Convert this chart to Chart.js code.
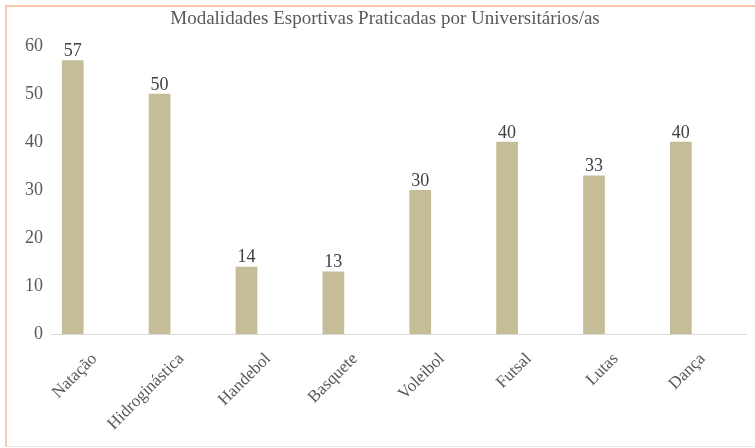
<!DOCTYPE html>
<html>
<head>
<meta charset="utf-8">
<script src="https://cdn.jsdelivr.net/npm/chart.js@4/dist/chart.umd.min.js"></script>
<style>
  html, body { margin: 0; padding: 0; background: #ffffff; }
  #wrap { position: relative; width: 755px; height: 448px; overflow: hidden; }
  #frame { position: absolute; left: 5px; top: 5px; width: 760px; height: 439px;
           border-left: 2px solid #F9C9A9; border-top: 2px solid #F9C9A9; border-bottom: 1px solid #E6E6E6; }
  canvas { position: absolute; left: 0; top: 0; }
</style>
</head>
<body>
<div id="wrap">
  <div id="frame"></div>
  <canvas id="c" width="755" height="448"></canvas>
</div>
<script>
const chartTitle = "Modalidades Esportivas Praticadas por Universitários/as";
const categories = ["Natação", "Hidroginástica", "Handebol", "Basquete", "Voleibol", "Futsal", "Lutas", "Dança"];
const values = [57, 50, 14, 13, 30, 40, 33, 40];
const emptySeries = [null, null, null, null, null, null, null, null];
const yTicks = [0, 10, 20, 30, 40, 50, 60];

const SERIF = "'Liberation Serif', 'Times New Roman', serif";
const TEXT = "#595959";

const valueLabels = {
  id: 'valueLabels',
  afterDatasetsDraw(chart) {
    const ctx = chart.ctx;
    const meta = chart.getDatasetMeta(0);
    ctx.save();
    ctx.font = "18px " + SERIF;
    ctx.fillStyle = "#404040";
    ctx.textAlign = "center";
    ctx.textBaseline = "bottom";
    meta.data.forEach((bar, i) => {
      ctx.fillText(String(values[i]), bar.x, bar.y);
    });
    ctx.restore();
  }
};

new Chart(document.getElementById('c'), {
  type: 'bar',
  data: {
    labels: categories,
    datasets: [
      { label: 'Praticantes', data: values, backgroundColor: '#C4BD97',
        barPercentage: 0.5, categoryPercentage: 1.0 },
      { label: '', data: emptySeries, backgroundColor: 'rgba(0,0,0,0)',
        barPercentage: 0.5, categoryPercentage: 1.0 }
    ]
  },
  options: {
    responsive: false,
    animation: false,
    layout: { padding: { left: 24, right: 9, top: 8, bottom: 0 } },
    plugins: {
      legend: { display: false },
      tooltip: { enabled: false },
      title: {
        display: true,
        text: chartTitle,
        color: TEXT,
        font: { family: SERIF, size: 19, weight: 'normal' },
        padding: { top: 0, bottom: 15 }
      }
    },
    scales: {
      x: {
        grid: { display: false },
        border: { display: true, color: '#D9D9D9', width: 1 },
        ticks: {
          color: TEXT,
          font: { family: SERIF, size: 17 },
          maxRotation: 45, minRotation: 45,
          padding: 7
        },
        afterFit(scale) { scale.height = 114; }
      },
      y: {
        min: 0, max: 60,
        afterBuildTicks(scale) { scale.ticks = yTicks.map(v => ({ value: v })); },
        grid: { display: false },
        border: { display: false },
        ticks: {
          color: TEXT,
          font: { family: SERIF, size: 18 },
          padding: 0
        },
        afterFit(scale) { scale.width = 27; }
      }
    }
  },
  plugins: [valueLabels]
});
</script>
</body>
</html>
